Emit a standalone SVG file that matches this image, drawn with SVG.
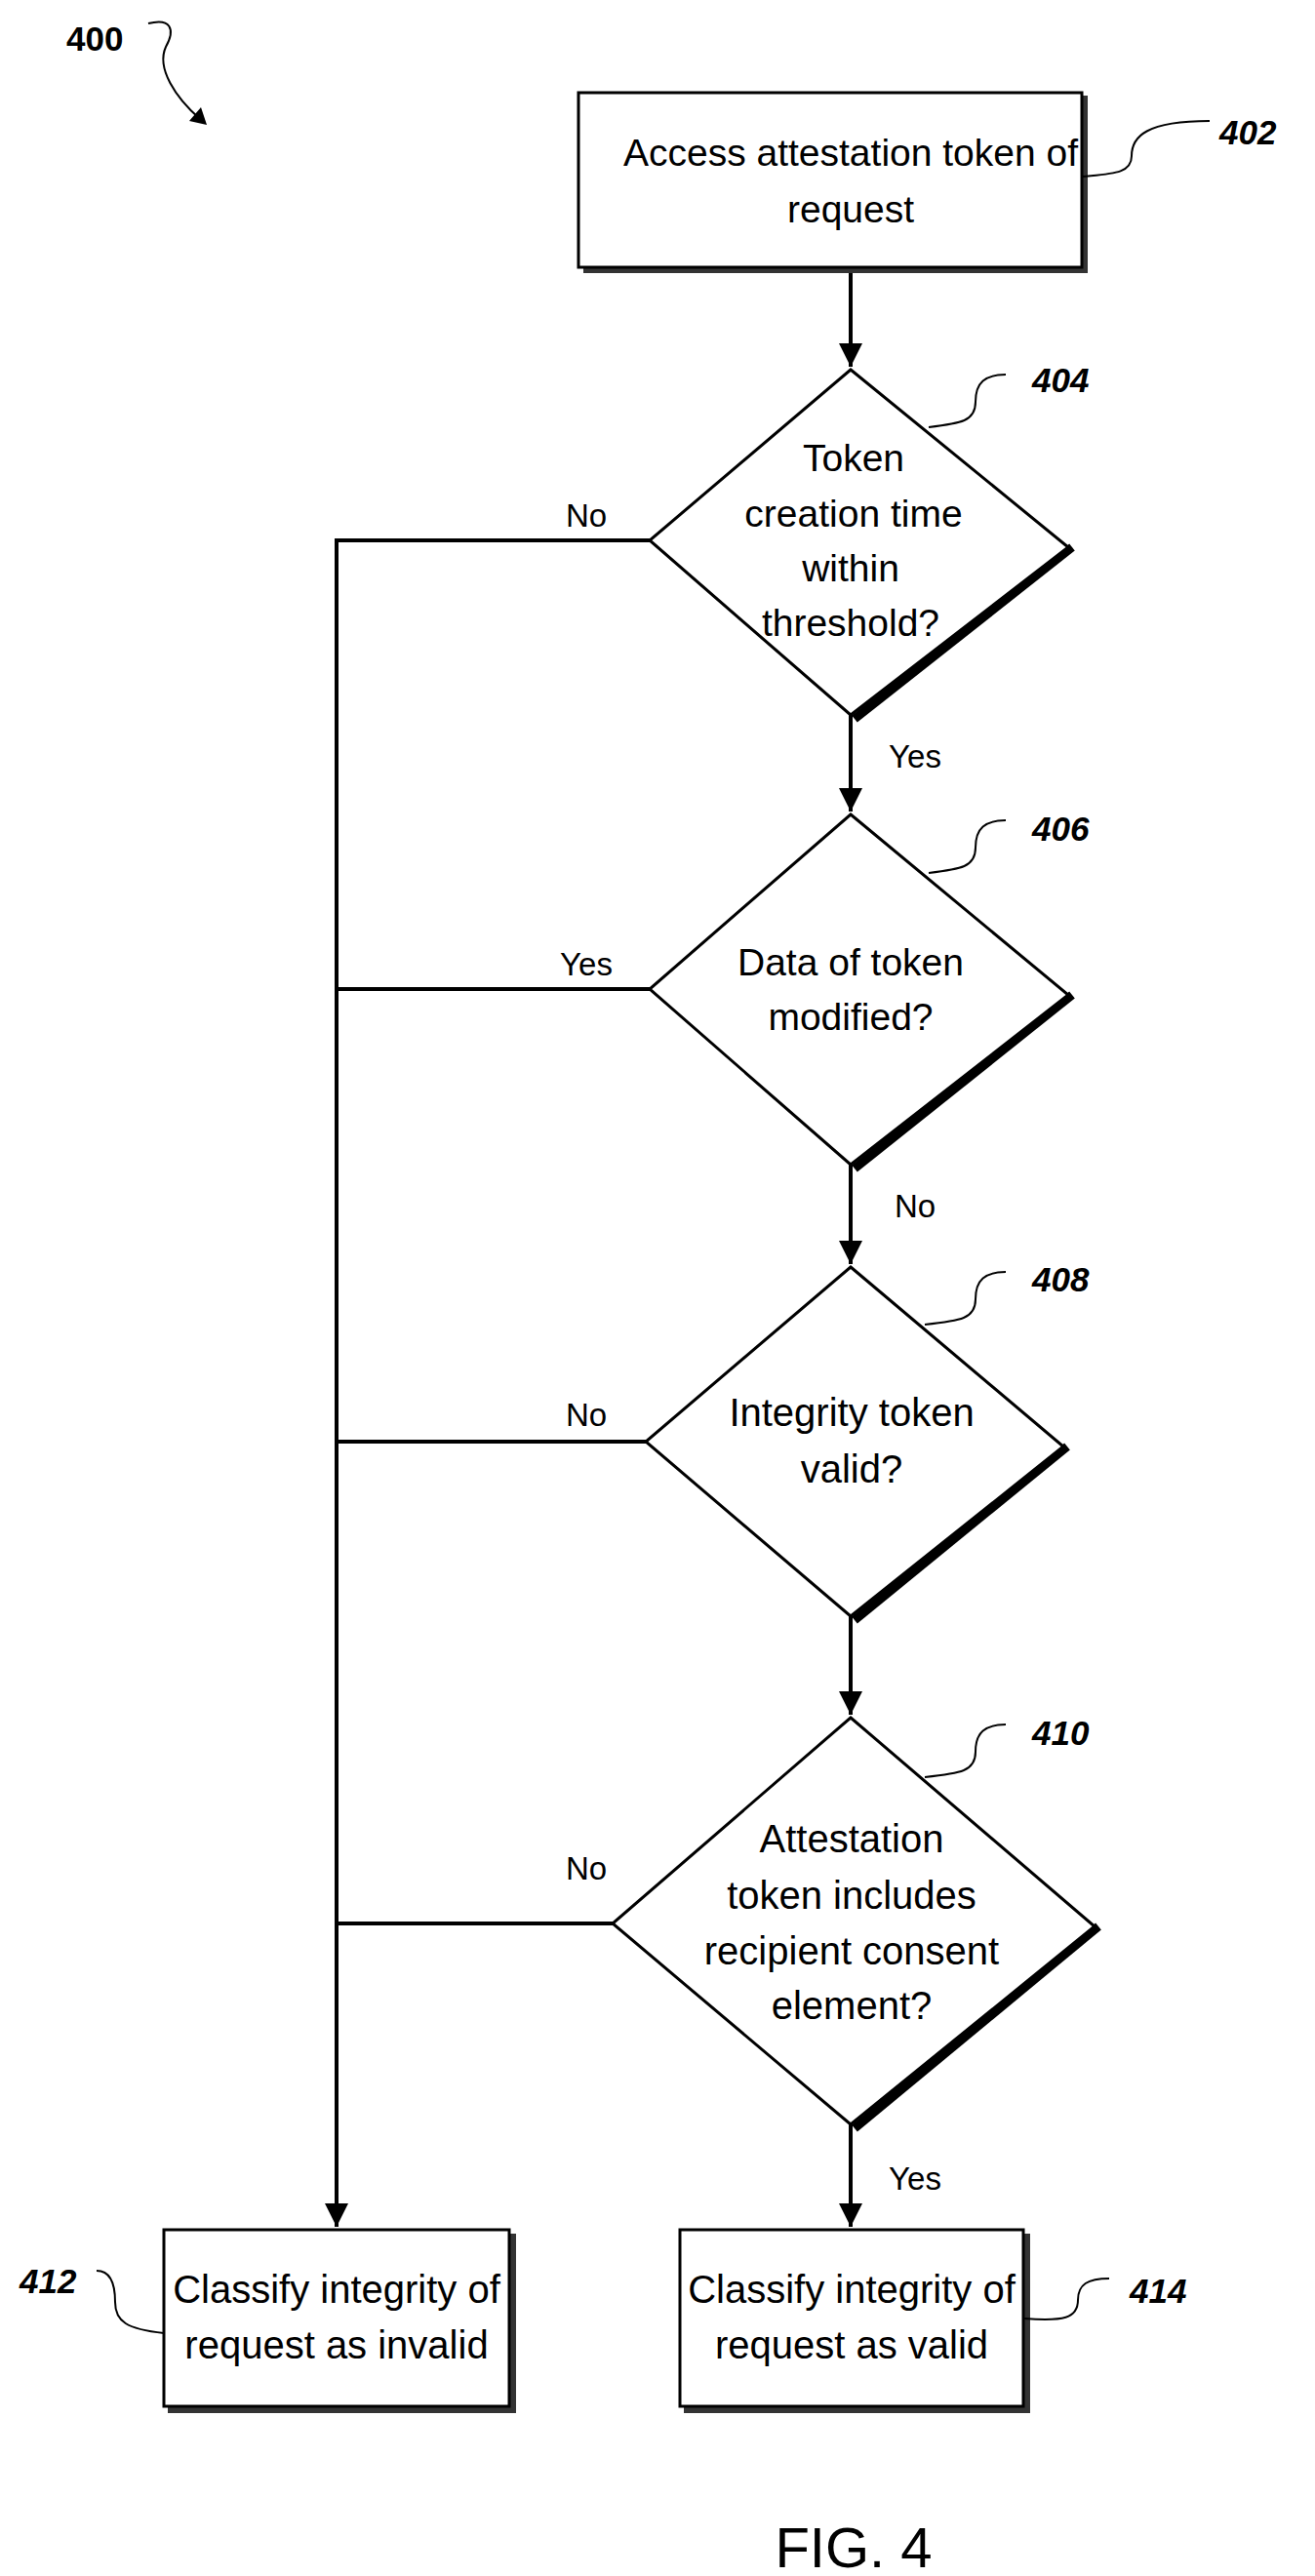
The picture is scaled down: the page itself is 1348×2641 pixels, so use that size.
<svg xmlns="http://www.w3.org/2000/svg" width="1348" height="2641" viewBox="0 0 1348 2641">
<defs>
<style>
.ln{fill:none;stroke:#000;stroke-width:4}
.sh{fill:none;stroke:#000;stroke-width:9}
.bsh{fill:none;stroke:#333;stroke-width:6}
.nd{fill:#fff;stroke:#000;stroke-width:3}
.y{font-family:"Liberation Sans",Arial,sans-serif;font-size:33px;fill:#000;text-anchor:middle;dominant-baseline:central}
.t{font-family:"Liberation Sans",Arial,sans-serif;font-size:40px;fill:#000;text-anchor:middle;dominant-baseline:central}
.tn{font-family:"Liberation Sans Narrow","Liberation Sans",Arial,sans-serif;font-size:39px;fill:#000;text-anchor:middle;dominant-baseline:central}
.lb{font-family:"Liberation Sans Narrow","Liberation Sans",Arial,sans-serif;font-size:35px;font-weight:bold;font-style:italic;fill:#000;dominant-baseline:central}
.ld{fill:none;stroke:#000;stroke-width:2}
</style>
<marker id="ah" viewBox="0 0 10 10" refX="10" refY="5" markerWidth="6" markerHeight="7" markerUnits="strokeWidth" orient="auto"><path d="M0,0 L10,5 L0,10 z" fill="#000"/></marker>
</defs>
<rect width="1348" height="2641" fill="#fff"/>
<g id="ref400">
<text class="lb" x="68" y="39" style="font-style:normal">400</text>
<path class="ld" d="M152,24 C175,18 180,30 170,48 C160,70 180,100 205,122" />
<path d="M212,128 L194,124 L206,110 z" fill="#000"/>
</g>
<g id="connectors">
<path class="ln" d="M872,274 V376" marker-end="url(#ah)"/>
<path class="ln" d="M872,733 V832" marker-end="url(#ah)"/>
<path class="ln" d="M872,1194 V1296" marker-end="url(#ah)"/>
<path class="ln" d="M872,1657 V1758" marker-end="url(#ah)"/>
<path class="ln" d="M872,2178 V2283" marker-end="url(#ah)"/>
<path class="ln" d="M666,554 H345 V2283" marker-end="url(#ah)"/>
<path class="ln" d="M666,1014 H345"/>
<path class="ln" d="M662,1478 H345"/>
<path class="ln" d="M628,1972 H345"/>
<text class="y" x="601" y="528">No</text>
<text class="y" x="938" y="775">Yes</text>
<text class="y" x="601" y="988">Yes</text>
<text class="y" x="938" y="1236">No</text>
<text class="y" x="601" y="1450">No</text>
<text class="y" x="601" y="1915">No</text>
<text class="y" x="938" y="2233">Yes</text>
</g>
<g id="n402">
<path class="bsh" d="M1112,98 V277 H598"/>
<rect class="nd" x="593" y="95" width="516" height="179"/>
<text class="tn" x="872" y="156">Access attestation token of</text>
<text class="tn" x="872" y="214">request</text>
<path class="ld" d="M1110,181 C1140,178 1160,178 1160,160 C1160,140 1175,124 1240,124"/>
<text class="lb" x="1250" y="135">402</text>
</g>
<g id="n404">
<path class="sh" d="M1099,561 L876,737"/>
<path class="nd" d="M872,379 L1095,561 L872,733 L666,554 z"/>
<text class="tn" x="875" y="469">Token</text>
<text class="tn" x="875" y="526">creation time</text>
<text class="tn" x="872" y="582">within</text>
<text class="tn" x="872" y="638">threshold?</text>
<path class="ld" d="M952,438 C985,434 1000,432 1000,412 C1000,392 1010,384 1031,384"/>
<text class="lb" x="1058" y="389">404</text>
</g>
<g id="n406">
<path class="sh" d="M1099,1020 L876,1198"/>
<path class="nd" d="M872,835 L1095,1020 L872,1194 L666,1014 z"/>
<text class="tn" x="872" y="986">Data of token</text>
<text class="tn" x="872" y="1042">modified?</text>
<path class="ld" d="M952,895 C985,891 1000,889 1000,869 C1000,849 1010,841 1031,841"/>
<text class="lb" x="1058" y="849">406</text>
</g>
<g id="n408">
<path class="sh" d="M1094,1483 L876,1661"/>
<path class="nd" d="M872,1299 L1090,1483 L872,1657 L662,1478 z"/>
<text class="t" x="873" y="1448">Integrity token</text>
<text class="t" x="873" y="1506">valid?</text>
<path class="ld" d="M948,1358 C985,1354 1000,1352 1000,1332 C1000,1312 1010,1304 1031,1304"/>
<text class="lb" x="1058" y="1311">408</text>
</g>
<g id="n410">
<path class="sh" d="M1126,1975 L876,2182"/>
<path class="nd" d="M872,1761 L1122,1975 L872,2178 L628,1972 z"/>
<text class="t" x="873" y="1885">Attestation</text>
<text class="t" x="873" y="1943">token includes</text>
<text class="t" x="873" y="2000">recipient consent</text>
<text class="t" x="873" y="2056">element?</text>
<path class="ld" d="M948,1822 C985,1818 1000,1816 1000,1796 C1000,1776 1010,1768 1031,1768"/>
<text class="lb" x="1058" y="1776">410</text>
</g>
<g id="n412">
<path class="bsh" d="M526,2290 V2471 H172"/>
<rect class="nd" x="168" y="2286" width="354" height="181"/>
<text class="t" x="345" y="2347">Classify integrity of</text>
<text class="t" x="345" y="2404">request as invalid</text>
<path class="ld" d="M168,2392 C130,2388 118,2380 118,2360 C118,2340 112,2328 99,2328"/>
<text class="lb" x="20" y="2338">412</text>
</g>
<g id="n414">
<path class="bsh" d="M1053,2290 V2471 H701"/>
<rect class="nd" x="697" y="2286" width="352" height="181"/>
<text class="t" x="873" y="2347">Classify integrity of</text>
<text class="t" x="873" y="2404">request as valid</text>
<path class="ld" d="M1050,2377 C1090,2380 1105,2377 1105,2358 C1105,2342 1115,2336 1137,2336"/>
<text class="lb" x="1158" y="2348">414</text>
</g>
<text x="875" y="2611" style="font-family:'Liberation Sans',Arial,sans-serif;font-size:58px;text-anchor:middle;dominant-baseline:central">FIG. 4</text>
</svg>
